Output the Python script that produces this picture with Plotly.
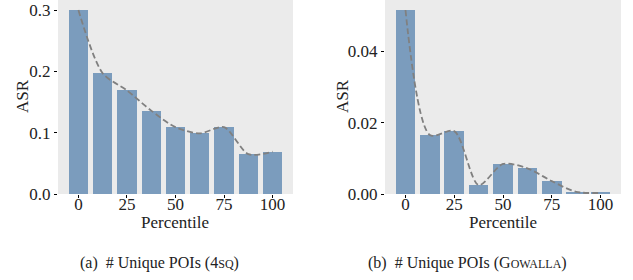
import plotly.graph_objects as go

percentiles = [0, 12.5, 25, 37.5, 50, 62.5, 75, 87.5, 100]
asr_4sq = [0.300, 0.197, 0.169, 0.136, 0.109, 0.099, 0.109, 0.065, 0.069]
asr_gowalla = [0.0515, 0.0165, 0.0176, 0.0025, 0.0084, 0.0072, 0.0036, 0.0006, 0.0003]
x_ticks = [0, 25, 50, 75, 100]
y_ticks_4sq = [0.0, 0.1, 0.2, 0.3]
y_ticks_gowalla = [0.00, 0.02, 0.04]

BAR = "#7b9cbd"
BG = "#ebebeb"
LINE = "#808080"
FONT = "Liberation Serif"

fig = go.Figure()
for vals, xa, ya in [(asr_4sq, "x", "y"), (asr_gowalla, "x2", "y2")]:
    fig.add_trace(go.Bar(x=percentiles, y=vals, width=10, marker_color=BAR,
                         marker_line_width=0, xaxis=xa, yaxis=ya, showlegend=False,
                         hoverinfo="skip"))
    fig.add_trace(go.Scatter(x=percentiles, y=vals, mode="lines",
                             line=dict(color=LINE, dash="6px,3px", width=1.8, shape="spline", smoothing=0.8),
                             xaxis=xa, yaxis=ya, showlegend=False, hoverinfo="skip"))

axis_common = dict(showgrid=False, zeroline=False, showline=False, ticks="outside",
                   ticklen=3, tickcolor="black", automargin=False,
                   tickfont=dict(family=FONT, size=17, color="#222"))
title_font = dict(family=FONT, size=17, color="#222")

fig.update_layout(
    width=633, height=280, margin=dict(l=0, r=0, t=0, b=0),
    paper_bgcolor="white", plot_bgcolor=BG, bargap=0,
    font=dict(family=FONT, color="#222"),
    xaxis=dict(domain=[58/633, 293/633], range=[-10.5, 110.5], tickvals=x_ticks,
               ticklabelstandoff=-8, anchor="y", **axis_common),
    yaxis=dict(domain=[1-194/280, 1], range=[0, 0.3165], tickvals=y_ticks_4sq,
               ticktext=["0.0", "0.1", "0.2", "0.3"], anchor="x", **axis_common),
    xaxis2=dict(domain=[385/633, 621/633], range=[-10.5, 110.5], tickvals=x_ticks,
                ticklabelstandoff=-8, anchor="y2", **axis_common),
    yaxis2=dict(domain=[1-194/280, 1], range=[0, 0.0543], tickvals=y_ticks_gowalla,
                ticktext=["0.00", "0.02", "0.04"], anchor="x2", **axis_common),
)

# axis titles
for cx in [175.5, 503]:
    fig.add_annotation(x=cx/633, y=1-222/280, xref="paper", yref="paper", showarrow=False,
                       xanchor="center", yanchor="middle", text="Percentile", font=title_font)
for cx in [22, 342]:
    fig.add_annotation(x=cx/633, y=1-96/280, xref="paper", yref="paper", showarrow=False,
                       xanchor="center", yanchor="middle", textangle=-90, text="ASR", font=title_font)

cap_font = dict(family="Liberation Serif", size=16, color="#222")
fig.add_annotation(x=159/633, y=1-263/280, xref="paper", yref="paper", showarrow=False,
                   xanchor="center", yanchor="middle",
                   text="(a)  # Unique POIs (4<span style='font-size:12px'>SQ</span>)", font=cap_font)
fig.add_annotation(x=467/633, y=1-263/280, xref="paper", yref="paper", showarrow=False,
                   xanchor="center", yanchor="middle",
                   text="(b)  # Unique POIs (G<span style='font-size:12px'>OWALLA</span>)", font=cap_font)

fig.write_html("out.html", config={"displayModeBar": False},
               post_script="document.body.style.margin='0';document.body.style.overflow='hidden';")
